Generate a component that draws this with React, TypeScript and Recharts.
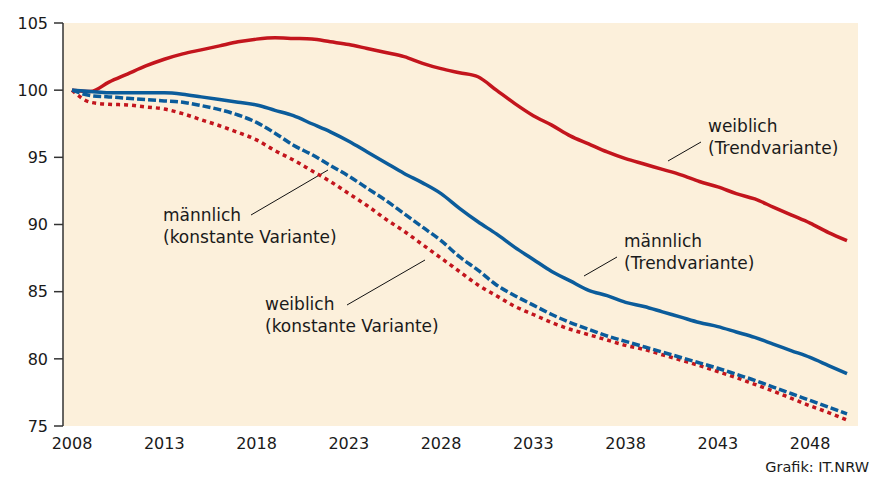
import { LineChart, Line, XAxis, YAxis, CartesianGrid, Customized } from 'recharts';

const years = [
  2008, 2009, 2010, 2011, 2012, 2013, 2014, 2015, 2016, 2017, 2018, 2019, 2020, 2021,
  2022, 2023, 2024, 2025, 2026, 2027, 2028, 2029, 2030, 2031, 2032, 2033, 2034, 2035,
  2036, 2037, 2038, 2039, 2040, 2041, 2042, 2043, 2044, 2045, 2046, 2047, 2048, 2049, 2050,
];

// weiblich (Trendvariante)
const femaleTrend = [
  100, 99.9, 100.6, 101.2, 101.8, 102.3, 102.7, 103.0, 103.3, 103.6, 103.8, 103.9, 103.85, 103.8,
  103.6, 103.4, 103.1, 102.8, 102.5, 102.0, 101.6, 101.3, 101.0, 100.0, 99.0, 98.1, 97.4, 96.6,
  96.0, 95.4, 94.9, 94.5, 94.1, 93.7, 93.2, 92.8, 92.3, 91.9, 91.3, 90.7, 90.1, 89.4, 88.8,
];

// männlich (Trendvariante)
const maleTrend = [
  100, 99.9, 99.8, 99.8, 99.8, 99.8, 99.7, 99.5, 99.3, 99.1, 98.9, 98.5, 98.1, 97.5,
  96.9, 96.2, 95.4, 94.6, 93.8, 93.1, 92.3, 91.2, 90.2, 89.3, 88.3, 87.4, 86.5, 85.8,
  85.1, 84.7, 84.2, 83.9, 83.5, 83.1, 82.7, 82.4, 82.0, 81.6, 81.1, 80.6, 80.1, 79.5, 78.9,
];

// männlich (konstante Variante)
const maleConst = [
  100, 99.6, 99.5, 99.4, 99.3, 99.2, 99.1, 98.85, 98.55, 98.15, 97.6, 96.8, 95.9, 95.2,
  94.4, 93.6, 92.7, 91.8, 90.8, 89.8, 88.8, 87.6, 86.6, 85.5, 84.7, 84.0, 83.3, 82.7,
  82.2, 81.7, 81.3, 80.9, 80.5, 80.1, 79.7, 79.3, 78.85, 78.4, 77.9, 77.4, 76.9, 76.4, 75.9,
];

// weiblich (konstante Variante)
const femaleConst = [
  100, 99.1, 98.95, 98.9, 98.75, 98.6, 98.25, 97.8, 97.35, 96.85, 96.3, 95.5, 94.8, 94.0,
  93.2, 92.3, 91.4, 90.4, 89.5, 88.5, 87.5, 86.5, 85.5, 84.7, 83.9, 83.3, 82.7, 82.2,
  81.8, 81.4, 81.0, 80.7, 80.3, 79.9, 79.5, 79.05, 78.6, 78.1, 77.6, 77.05, 76.5, 76.0, 75.45,
];

const xTicks = [2008, 2013, 2018, 2023, 2028, 2033, 2038, 2043, 2048];
const yTicks = [75, 80, 85, 90, 95, 100, 105];

const data = years.map((year, i) => ({
  year,
  femaleTrend: femaleTrend[i],
  maleTrend: maleTrend[i],
  maleConst: maleConst[i],
  femaleConst: femaleConst[i],
}));

const RED = '#c3151d';
const BLUE = '#0b5c9b';
const FONT = '"DejaVu Sans", sans-serif';
const TEXT = '#1a1a1a';

const XTick = (props: any) => {
  const { x, payload } = props;
  return (
    <text x={x} y={449} textAnchor="middle" fontSize={16} fill={TEXT} fontFamily={FONT}>
      {payload.value}
    </text>
  );
};

// labels with leader lines
const Annotations = () => {
  const label = (x: number, y: number, l1: string, l2: string) => (
    <text x={x} y={y} fontSize={17} fill={TEXT} fontFamily={FONT}>
      <tspan x={x} y={y}>{l1}</tspan>
      <tspan x={x} y={y + 22}>{l2}</tspan>
    </text>
  );
  return (
    <g>
      <line x1={668} y1={161} x2={701} y2={142} stroke="#111" strokeWidth={1} />
      {label(708, 132, 'weiblich', '(Trendvariante)')}
      <line x1={584} y1={276} x2={617} y2={257} stroke="#111" strokeWidth={1} />
      {label(624, 247, 'männlich', '(Trendvariante)')}
      <line x1={251} y1={215} x2={328} y2={170} stroke="#111" strokeWidth={1} />
      {label(163, 221, 'männlich', '(konstante Variante)')}
      <line x1={347} y1={305} x2={425} y2={260} stroke="#111" strokeWidth={1} />
      {label(265, 310, 'weiblich', '(konstante Variante)')}
      <text x={869} y={472} textAnchor="end" fontSize={14.5} fill={TEXT} fontFamily={FONT}>
        Grafik: IT.NRW
      </text>
    </g>
  );
};

export default function App() {
  return (
    <div style={{ width: 875, height: 486, background: '#fff' }}>
      <style>{`body{margin:0}`}</style>
      <LineChart
        width={875}
        height={486}
        data={data}
        margin={{ top: 23, right: 17, bottom: 20, left: 0 }}
      >
        <CartesianGrid fill="#fcf0db" stroke="none" horizontal={false} vertical={false} />
        <XAxis
          dataKey="year"
          type="number"
          domain={[2008, 2050]}
          ticks={xTicks}
          padding={{ left: 9, right: 11 }}
          axisLine={false}
          tickLine={false}
          height={40}
          tick={<XTick />}
          interval={0}
        />
        <YAxis
          domain={[75, 105]}
          ticks={yTicks}
          width={63}
          axisLine={{ stroke: '#333', strokeWidth: 1.5 }}
          tickLine={{ stroke: '#333', strokeWidth: 1.5 }}
          tickSize={9}
          tickMargin={6}
          tick={{ fontSize: 16, fill: TEXT, fontFamily: FONT }}
          interval={0}
        />
        <Line type="monotone" dataKey="femaleTrend" stroke={RED} strokeWidth={3.5} dot={false} isAnimationActive={false} />
        <Line type="monotone" dataKey="maleTrend" stroke={BLUE} strokeWidth={3.5} dot={false} isAnimationActive={false} />
        <Line type="monotone" dataKey="femaleConst" stroke={RED} strokeWidth={3.5} strokeDasharray="4 4" dot={false} isAnimationActive={false} />
        <Line type="monotone" dataKey="maleConst" stroke={BLUE} strokeWidth={3.5} strokeDasharray="8 3" dot={false} isAnimationActive={false} />
        <Customized component={Annotations} />
      </LineChart>
    </div>
  );
}
